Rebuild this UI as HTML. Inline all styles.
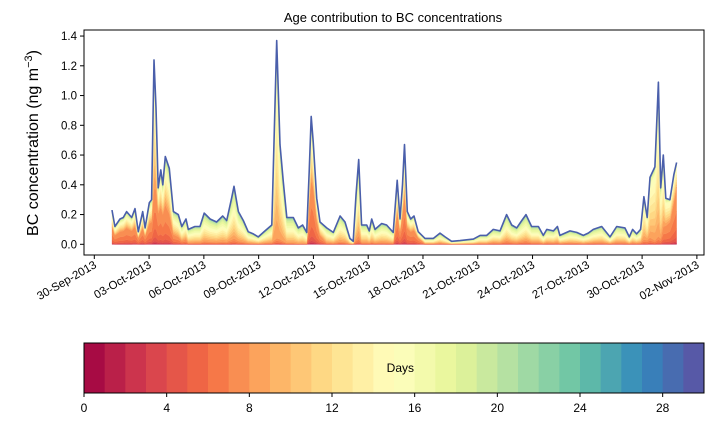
<!DOCTYPE html>
<html><head><meta charset="utf-8"><style>
body{margin:0;background:#fff;}
svg{display:block;font-family:"Liberation Sans","DejaVu Sans",sans-serif;}
</style></head><body>
<svg id="chart" width="714" height="425" viewBox="0 0 714 425">
<rect width="714" height="425" fill="#fff"/>
<text x="393" y="22" font-size="13" text-anchor="middle">Age contribution to BC concentrations</text>
<text transform="translate(38,143) rotate(-90)" font-size="16" text-anchor="middle">BC concentration (ng m<tspan dy="-6" font-size="11">−3</tspan><tspan dy="6">)</tspan></text>
<g id="areas"></g>
<g id="axes"></g>
<g id="cbar"></g>
</svg>
<script>
const days=[0.97,1.13,1.41,1.59,1.77,2.05,2.23,2.41,2.65,2.78,3.01,3.14,3.27,3.38,3.50,3.64,3.75,3.89,4.11,4.33,4.60,4.79,5.02,5.15,5.51,5.79,6.02,6.34,6.70,7.03,7.25,7.52,7.65,7.89,8.16,8.43,8.71,8.98,9.35,9.72,9.99,10.17,10.35,10.54,10.90,11.17,11.41,11.63,11.77,11.88,11.99,12.18,12.36,12.73,13.09,13.46,13.73,14.00,14.18,14.33,14.48,14.64,14.92,15.06,15.19,15.37,15.74,16.01,16.37,16.59,16.74,16.88,16.99,17.14,17.33,17.51,17.74,18.11,18.57,18.93,19.21,19.57,20.03,20.39,20.76,21.13,21.49,21.85,22.22,22.58,22.86,23.13,23.41,23.64,23.95,24.32,24.59,24.78,25.14,25.36,25.50,26.05,26.42,26.78,27.05,27.33,27.79,28.24,28.61,29.06,29.30,29.48,29.70,29.92,30.10,30.28,30.43,30.70,30.89,31.02,31.16,31.30,31.52,31.74,31.89];
const totalBC=[0.23,0.12,0.17,0.18,0.22,0.18,0.24,0.085,0.22,0.11,0.28,0.30,1.24,0.92,0.38,0.50,0.40,0.59,0.51,0.22,0.20,0.12,0.17,0.10,0.12,0.12,0.21,0.17,0.15,0.19,0.16,0.31,0.39,0.22,0.16,0.085,0.07,0.05,0.09,0.13,1.37,0.67,0.42,0.18,0.18,0.11,0.13,0.08,0.49,0.86,0.69,0.31,0.15,0.11,0.08,0.19,0.15,0.04,0.02,0.33,0.57,0.13,0.13,0.09,0.17,0.10,0.14,0.13,0.08,0.43,0.17,0.40,0.67,0.22,0.17,0.19,0.085,0.04,0.04,0.075,0.05,0.02,0.025,0.03,0.035,0.06,0.06,0.10,0.09,0.20,0.13,0.11,0.16,0.20,0.12,0.12,0.06,0.10,0.09,0.12,0.06,0.09,0.08,0.06,0.075,0.10,0.12,0.05,0.12,0.11,0.05,0.10,0.07,0.10,0.32,0.18,0.45,0.52,1.09,0.38,0.60,0.31,0.30,0.47,0.55];
const youngFrac=[0.5,0.5,0.5,0.5,0.5,0.5,0.5,0.5,0.5,0.5,0.5,0.5,
0.3,0.4,0.55,0.5,0.5,0.45,0.4,
0.3,0.25,0.2,0.2,
0.1,0.1,0.1,0.1,0.1,0.1,0.1,0.1,0.1,0.1,0.1,0.1,0.1,0.1,0.1,0.1,0.1,
0.03,0.05,0.05,0.05,0.05,0.05,0.05,0.05,
0.55,0.5,0.55,0.5,0.4,
0.1,0.1,0.1,0.1,0.1,0.1,0.1,0.1,0.1,0.1,0.1,0.1,0.1,0.1,0.1,0.1,
0.5,0.5,0.5,0.5,0.5,0.5,0.5,0.5,
0.12,0.12,0.12,0.12,0.12,0.12,0.12,0.12,0.12,0.12,0.12,0.12,0.12,0.12,0.12,0.12,0.12,0.12,0.12,0.12,0.12,0.12,0.12,0.12,0.12,0.12,0.12,0.12,0.12,0.12,0.12,0.12,0.12,0.12,0.12,0.12,0.12,
0.1,0.15,0.1,0.05,0.05,0.1,0.2,0.4,0.5,0.6,0.7];
const midFrac=[0.35,0.35,0.35,0.35,0.35,0.35,0.35,0.35,0.35,0.35,0.35,0.35,
0.6,0.5,0.35,0.35,0.35,0.4,0.4,
0.45,0.45,0.5,0.5,
0.55,0.55,0.55,0.55,0.55,0.55,0.55,0.55,0.55,0.55,0.55,0.55,0.55,0.55,0.55,0.55,0.55,
0.8,0.7,0.6,0.55,0.55,0.55,0.55,0.55,
0.35,0.35,0.35,0.4,0.45,
0.55,0.55,0.55,0.55,0.55,0.55,0.55,0.55,0.55,0.55,0.55,0.55,0.55,0.55,0.55,0.55,
0.35,0.35,0.35,0.35,0.35,0.35,0.35,0.35,
0.5,0.5,0.5,0.5,0.5,0.5,0.5,0.5,0.5,0.5,0.5,0.5,0.5,0.5,0.5,0.5,0.5,0.5,0.5,0.5,0.5,0.5,0.5,0.5,0.5,0.5,0.5,0.5,0.5,0.5,0.5,0.5,0.5,0.5,0.5,0.5,0.5,
0.75,0.7,0.8,0.85,0.75,0.7,0.6,0.5,0.45,0.35,0.25];
const youngProfile=[0.003,0.007,0.015,0.03,0.07,0.15,0.3,0.425];
const midProfile=[0.12,0.11,0.11,0.12,0.13,0.14,0.14,0.13];
const oldProfile=[0.25,0.22,0.17,0.13,0.09,0.06,0.04,0.02,0.01,0.005,0.003,0.001,0.0005,0.0005];
const yTicks=[0,0.2,0.4,0.6,0.8,1.0,1.2,1.4];
const xTickDays=[0,3,6,9,12,15,18,21,24,27,30,33];
const xTickLabels=["30-Sep-2013","03-Oct-2013","06-Oct-2013","09-Oct-2013","12-Oct-2013","15-Oct-2013","18-Oct-2013","21-Oct-2013","24-Oct-2013","27-Oct-2013","30-Oct-2013","02-Nov-2013"];
const cbTicks=[0,4,8,12,16,20,24,28];

const NS="http://www.w3.org/2000/svg";
const X0=84,X1=704,Y0=30,Y1=255;
const xs=d=>94.3+d*18.26;
const ys=v=>244.3-v*148.75;
const cbx=v=>84+v*(620/30);
const spec=["#9e0142","#d53e4f","#f46d43","#fdae61","#fee08b","#ffffbf","#e6f598","#abdda4","#66c2a5","#3288bd","#5e4fa2"];
function hex(c){return[1,3,5].map(i=>parseInt(c.substr(i,2),16));}
function cmap(t){t=Math.max(0,Math.min(1,t))*10;const i=Math.min(9,Math.floor(t)),f=t-i;const a=hex(spec[i]),b=hex(spec[i+1]);return"rgb("+a.map((v,k)=>Math.round(v+(b[k]-v)*f)).join(",")+")";}
function mk(tag,attrs,parent){const e=document.createElementNS(NS,tag);for(const k in attrs)e.setAttribute(k,attrs[k]);parent.appendChild(e);return e;}

const areas=document.getElementById("areas");
function layerShare(i,age){
  if(age<8)return youngFrac[i]*youngProfile[age];
  if(age<16)return midFrac[i]*midProfile[age-8];
  const old=Math.max(0,1-youngFrac[i]-midFrac[i]);
  return old*oldProfile[age-16];
}
let lower=days.map(()=>0);
for(let age=0;age<30;age++){
  const upper=lower.map((l,i)=>l+totalBC[i]*layerShare(i,age));
  let pts=days.map((d,i)=>xs(d).toFixed(1)+","+ys(upper[i]).toFixed(1));
  for(let i=days.length-1;i>=0;i--)pts.push(xs(days[i]).toFixed(1)+","+ys(lower[i]).toFixed(1));
  const p=mk("polygon",{points:pts.join(" "),fill:cmap((age+0.5)/30),stroke:cmap((age+0.5)/30),"stroke-width":"0.3"},areas);
  
  
  lower=upper;
}
const line=mk("polyline",{points:days.map((d,i)=>xs(d).toFixed(1)+","+ys(totalBC[i]).toFixed(1)).join(" "),fill:"none",stroke:"#4a5fab","stroke-width":"1.6","stroke-linejoin":"round"},areas);



const axes=document.getElementById("axes");
const frame=mk("rect",{x:X0,y:Y0,width:X1-X0,height:Y1-Y0,fill:"none",stroke:"#000","stroke-width":"1"},axes);


yTicks.forEach(v=>{
  const y=ys(v);
  mk("line",{x1:X0-4,x2:X0,y1:y,y2:y,stroke:"#000"},axes);
  const t=mk("text",{x:X0-7,y:y+4,"font-size":"11.5","text-anchor":"end"},axes);
  t.textContent=v.toFixed(1);
  
  
});
xTickDays.forEach((d,i)=>{
  const x=xs(d);
  mk("line",{x1:x,x2:x,y1:Y1,y2:Y1+4,stroke:"#000"},axes);
  const t=mk("text",{transform:"translate("+(x+3)+","+(Y1+12)+") rotate(-30)","font-size":"11.5","text-anchor":"end"},axes);
  t.textContent=xTickLabels[i];
  
  
});

const cb=document.getElementById("cbar");
for(let k=0;k<30;k++){
  const r=mk("rect",{x:cbx(k),y:343,width:620/30+0.5,height:50,fill:cmap((k+0.5)/30)},cb);
  
  
}
mk("rect",{x:84,y:343,width:620,height:50,fill:"none",stroke:"#000","stroke-width":"1"},cb);
const lbl=mk("text",{x:cbx(15.5)-4,y:372,"font-size":"12","text-anchor":"middle"},cb);
lbl.textContent="Days";


cbTicks.forEach(v=>{
  const x=cbx(v);
  mk("line",{x1:x,x2:x,y1:393,y2:397,stroke:"#000"},cb);
  const t=mk("text",{x:x,y:412,"font-size":"12","text-anchor":"middle"},cb);
  t.textContent=v;
  
  
});
</script>
</body></html>
